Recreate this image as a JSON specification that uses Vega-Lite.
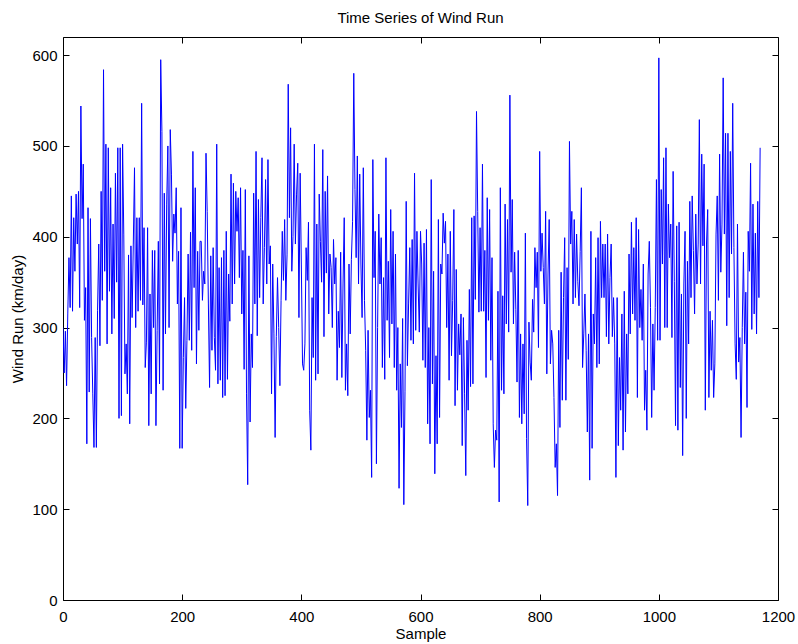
{
"$schema": "https://vega.github.io/schema/vega-lite/v6.json",
"autosize": "none",
"width": 715,
"height": 563,
"padding": {"left": 63, "top": 37, "right": 20, "bottom": 44},
"background": "white",
"title": {"text": "Time Series of Wind Run", "font": "Liberation Sans", "fontSize": 15, "fontWeight": "normal", "color": "black", "offset": 11},
"config": {
  "view": {"stroke": "black", "strokeWidth": 1},
  "axis": {"grid": false, "domain": false, "tickColor": "black", "tickSize": -6, "tickWidth": 1, "labelFont": "Liberation Sans", "labelFontSize": 15, "labelColor": "black", "titleFont": "Liberation Sans", "titleFontSize": 15, "titleFontWeight": "normal", "titleColor": "black", "format": "d"}
},
"data": {"values": [
{"x":0,"y":300},{"x":2,"y":250},{"x":4,"y":296},{"x":6,"y":236},{"x":8,"y":315},{"x":10,"y":377},{"x":12,"y":322},{"x":14,"y":445},{"x":16,"y":318},{"x":18,"y":421},
{"x":20,"y":362},{"x":22,"y":447},{"x":24,"y":392},{"x":26,"y":450},{"x":28,"y":322},{"x":30,"y":544},{"x":32,"y":420},{"x":34,"y":480},{"x":36,"y":308},{"x":38,"y":344},
{"x":40,"y":172},{"x":42,"y":432},{"x":44,"y":229},{"x":46,"y":420},{"x":48,"y":289},{"x":50,"y":227},{"x":52,"y":168},{"x":54,"y":289},{"x":56,"y":168},{"x":58,"y":319},
{"x":60,"y":392},{"x":62,"y":280},{"x":64,"y":450},{"x":66,"y":330},{"x":68,"y":584},{"x":70,"y":362},{"x":72,"y":502},{"x":74,"y":282},{"x":76,"y":498},{"x":78,"y":340},
{"x":80,"y":454},{"x":82,"y":293},{"x":84,"y":414},{"x":86,"y":310},{"x":88,"y":470},{"x":90,"y":350},{"x":92,"y":498},{"x":94,"y":200},{"x":96,"y":498},{"x":98,"y":203},
{"x":100,"y":502},{"x":102,"y":403},{"x":104,"y":249},{"x":106,"y":282},{"x":108,"y":227},{"x":110,"y":380},{"x":112,"y":194},{"x":114,"y":390},{"x":116,"y":311},{"x":118,"y":392},
{"x":120,"y":476},{"x":122,"y":300},{"x":124,"y":421},{"x":126,"y":318},{"x":128,"y":421},{"x":130,"y":330},{"x":132,"y":547},{"x":134,"y":325},{"x":136,"y":410},{"x":138,"y":256},
{"x":140,"y":284},{"x":142,"y":410},{"x":144,"y":192},{"x":146,"y":337},{"x":148,"y":227},{"x":150,"y":385},{"x":152,"y":300},{"x":154,"y":385},{"x":156,"y":192},{"x":158,"y":297},
{"x":160,"y":395},{"x":162,"y":238},{"x":164,"y":595},{"x":166,"y":516},{"x":168,"y":231},{"x":170,"y":448},{"x":172,"y":293},{"x":174,"y":436},{"x":176,"y":500},{"x":178,"y":300},
{"x":180,"y":518},{"x":182,"y":469},{"x":184,"y":373},{"x":186,"y":425},{"x":188,"y":404},{"x":190,"y":454},{"x":192,"y":326},{"x":194,"y":384},{"x":196,"y":167},{"x":198,"y":432},
{"x":200,"y":167},{"x":202,"y":267},{"x":204,"y":333},{"x":206,"y":211},{"x":208,"y":286},{"x":210,"y":381},{"x":212,"y":286},{"x":214,"y":405},{"x":216,"y":275},{"x":218,"y":494},
{"x":220,"y":344},{"x":222,"y":454},{"x":224,"y":260},{"x":226,"y":384},{"x":228,"y":297},{"x":230,"y":395},{"x":232,"y":395},{"x":234,"y":330},{"x":236,"y":362},{"x":238,"y":348},
{"x":240,"y":492},{"x":242,"y":428},{"x":244,"y":326},{"x":246,"y":234},{"x":248,"y":379},{"x":250,"y":275},{"x":252,"y":388},{"x":254,"y":289},{"x":256,"y":253},{"x":258,"y":502},
{"x":260,"y":238},{"x":262,"y":366},{"x":264,"y":242},{"x":266,"y":377},{"x":268,"y":223},{"x":270,"y":385},{"x":272,"y":225},{"x":274,"y":406},{"x":276,"y":243},{"x":278,"y":359},
{"x":280,"y":307},{"x":282,"y":469},{"x":284,"y":326},{"x":286,"y":459},{"x":288,"y":348},{"x":290,"y":450},{"x":292,"y":406},{"x":294,"y":443},{"x":296,"y":355},{"x":298,"y":454},
{"x":300,"y":315},{"x":302,"y":385},{"x":304,"y":254},{"x":306,"y":452},{"x":308,"y":227},{"x":310,"y":127},{"x":312,"y":379},{"x":314,"y":196},{"x":316,"y":293},{"x":318,"y":256},
{"x":320,"y":448},{"x":322,"y":326},{"x":324,"y":494},{"x":326,"y":291},{"x":328,"y":441},{"x":330,"y":333},{"x":332,"y":421},{"x":334,"y":487},{"x":336,"y":326},{"x":338,"y":388},
{"x":340,"y":463},{"x":342,"y":348},{"x":344,"y":485},{"x":346,"y":370},{"x":348,"y":390},{"x":350,"y":227},{"x":352,"y":370},{"x":354,"y":293},{"x":356,"y":179},{"x":358,"y":290},
{"x":360,"y":355},{"x":362,"y":300},{"x":364,"y":236},{"x":366,"y":330},{"x":368,"y":406},{"x":370,"y":352},{"x":372,"y":419},{"x":374,"y":330},{"x":376,"y":380},{"x":378,"y":568},
{"x":380,"y":421},{"x":382,"y":520},{"x":384,"y":362},{"x":386,"y":400},{"x":388,"y":502},{"x":390,"y":392},{"x":392,"y":447},{"x":394,"y":481},{"x":396,"y":311},{"x":398,"y":470},
{"x":400,"y":370},{"x":402,"y":260},{"x":404,"y":253},{"x":406,"y":282},{"x":408,"y":388},{"x":410,"y":352},{"x":412,"y":416},{"x":414,"y":209},{"x":416,"y":165},{"x":418,"y":333},
{"x":420,"y":267},{"x":422,"y":502},{"x":424,"y":242},{"x":426,"y":414},{"x":428,"y":249},{"x":430,"y":447},{"x":432,"y":395},{"x":434,"y":350},{"x":436,"y":496},{"x":438,"y":290},
{"x":440,"y":450},{"x":442,"y":360},{"x":444,"y":467},{"x":446,"y":315},{"x":448,"y":381},{"x":450,"y":366},{"x":452,"y":300},{"x":454,"y":397},{"x":456,"y":348},{"x":458,"y":377},
{"x":460,"y":242},{"x":462,"y":318},{"x":464,"y":278},{"x":466,"y":383},{"x":468,"y":245},{"x":470,"y":348},{"x":472,"y":421},{"x":474,"y":231},{"x":476,"y":282},{"x":478,"y":225},
{"x":480,"y":370},{"x":482,"y":293},{"x":484,"y":375},{"x":486,"y":417},{"x":488,"y":580},{"x":490,"y":452},{"x":492,"y":377},{"x":494,"y":489},{"x":496,"y":348},{"x":498,"y":469},
{"x":500,"y":370},{"x":502,"y":311},{"x":504,"y":476},{"x":506,"y":330},{"x":508,"y":275},{"x":510,"y":176},{"x":512,"y":297},{"x":514,"y":201},{"x":516,"y":231},{"x":518,"y":135},
{"x":520,"y":485},{"x":522,"y":355},{"x":524,"y":406},{"x":526,"y":150},{"x":528,"y":300},{"x":530,"y":425},{"x":532,"y":348},{"x":534,"y":399},{"x":536,"y":256},{"x":538,"y":355},
{"x":540,"y":243},{"x":542,"y":487},{"x":544,"y":308},{"x":546,"y":373},{"x":548,"y":267},{"x":550,"y":430},{"x":552,"y":304},{"x":554,"y":406},{"x":556,"y":256},{"x":558,"y":381},
{"x":560,"y":231},{"x":562,"y":300},{"x":564,"y":123},{"x":566,"y":260},{"x":568,"y":190},{"x":570,"y":310},{"x":572,"y":105},{"x":574,"y":230},{"x":576,"y":439},{"x":578,"y":258},
{"x":580,"y":326},{"x":582,"y":388},{"x":584,"y":286},{"x":586,"y":397},{"x":588,"y":282},{"x":590,"y":470},{"x":592,"y":297},{"x":594,"y":406},{"x":596,"y":348},{"x":598,"y":295},
{"x":600,"y":406},{"x":602,"y":370},{"x":604,"y":264},{"x":606,"y":393},{"x":608,"y":256},{"x":610,"y":408},{"x":612,"y":194},{"x":614,"y":300},{"x":616,"y":172},{"x":618,"y":463},
{"x":620,"y":238},{"x":622,"y":362},{"x":624,"y":139},{"x":626,"y":269},{"x":628,"y":172},{"x":630,"y":419},{"x":632,"y":201},{"x":634,"y":370},{"x":636,"y":359},{"x":638,"y":426},
{"x":640,"y":393},{"x":642,"y":417},{"x":644,"y":300},{"x":646,"y":381},{"x":648,"y":242},{"x":650,"y":406},{"x":652,"y":269},{"x":654,"y":330},{"x":656,"y":430},{"x":658,"y":214},
{"x":660,"y":364},{"x":662,"y":231},{"x":664,"y":304},{"x":666,"y":270},{"x":668,"y":315},{"x":670,"y":170},{"x":672,"y":311},{"x":674,"y":227},{"x":676,"y":137},{"x":678,"y":286},
{"x":680,"y":209},{"x":682,"y":342},{"x":684,"y":235},{"x":686,"y":421},{"x":688,"y":238},{"x":690,"y":423},{"x":692,"y":331},{"x":694,"y":538},{"x":696,"y":428},{"x":698,"y":317},
{"x":700,"y":410},{"x":702,"y":318},{"x":704,"y":480},{"x":706,"y":318},{"x":708,"y":385},{"x":710,"y":245},{"x":712,"y":443},{"x":714,"y":308},{"x":716,"y":430},{"x":718,"y":264},
{"x":720,"y":377},{"x":722,"y":194},{"x":724,"y":146},{"x":726,"y":187},{"x":728,"y":176},{"x":730,"y":340},{"x":732,"y":108},{"x":734,"y":454},{"x":736,"y":231},{"x":738,"y":335},
{"x":740,"y":227},{"x":742,"y":436},{"x":744,"y":304},{"x":746,"y":419},{"x":748,"y":295},{"x":750,"y":556},{"x":752,"y":361},{"x":754,"y":441},{"x":756,"y":304},{"x":758,"y":383},
{"x":760,"y":320},{"x":762,"y":240},{"x":764,"y":385},{"x":766,"y":201},{"x":768,"y":293},{"x":770,"y":194},{"x":772,"y":282},{"x":774,"y":205},{"x":776,"y":404},{"x":778,"y":178},
{"x":780,"y":104},{"x":782,"y":306},{"x":784,"y":262},{"x":786,"y":242},{"x":788,"y":331},{"x":790,"y":295},{"x":792,"y":388},{"x":794,"y":344},{"x":796,"y":383},{"x":798,"y":278},
{"x":800,"y":494},{"x":802,"y":362},{"x":804,"y":404},{"x":806,"y":366},{"x":808,"y":326},{"x":810,"y":428},{"x":812,"y":249},{"x":814,"y":359},{"x":816,"y":419},{"x":818,"y":260},
{"x":820,"y":297},{"x":822,"y":282},{"x":824,"y":223},{"x":826,"y":146},{"x":828,"y":172},{"x":830,"y":115},{"x":832,"y":297},{"x":834,"y":190},{"x":836,"y":361},{"x":838,"y":220},
{"x":840,"y":333},{"x":842,"y":399},{"x":844,"y":220},{"x":846,"y":366},{"x":848,"y":265},{"x":850,"y":505},{"x":852,"y":392},{"x":854,"y":428},{"x":856,"y":326},{"x":858,"y":419},
{"x":860,"y":333},{"x":862,"y":403},{"x":864,"y":351},{"x":866,"y":324},{"x":868,"y":384},{"x":870,"y":454},{"x":872,"y":256},{"x":874,"y":293},{"x":876,"y":337},{"x":878,"y":275},
{"x":880,"y":185},{"x":882,"y":293},{"x":884,"y":132},{"x":886,"y":406},{"x":888,"y":167},{"x":890,"y":315},{"x":892,"y":282},{"x":894,"y":377},{"x":896,"y":256},{"x":898,"y":399},
{"x":900,"y":260},{"x":902,"y":417},{"x":904,"y":333},{"x":906,"y":392},{"x":908,"y":333},{"x":910,"y":392},{"x":912,"y":290},{"x":914,"y":403},{"x":916,"y":282},{"x":918,"y":355},
{"x":920,"y":392},{"x":922,"y":290},{"x":924,"y":333},{"x":926,"y":282},{"x":928,"y":135},{"x":930,"y":333},{"x":932,"y":170},{"x":934,"y":267},{"x":936,"y":209},{"x":938,"y":315},
{"x":940,"y":165},{"x":942,"y":340},{"x":944,"y":185},{"x":946,"y":293},{"x":948,"y":227},{"x":950,"y":381},{"x":952,"y":293},{"x":954,"y":416},{"x":956,"y":315},{"x":958,"y":388},
{"x":960,"y":308},{"x":962,"y":421},{"x":964,"y":223},{"x":966,"y":408},{"x":968,"y":300},{"x":970,"y":342},{"x":972,"y":286},{"x":974,"y":370},{"x":976,"y":209},{"x":978,"y":253},
{"x":980,"y":187},{"x":982,"y":359},{"x":984,"y":395},{"x":986,"y":322},{"x":988,"y":201},{"x":990,"y":304},{"x":992,"y":231},{"x":994,"y":322},{"x":996,"y":463},{"x":998,"y":286},
{"x":1000,"y":597},{"x":1002,"y":286},{"x":1004,"y":452},{"x":1006,"y":370},{"x":1008,"y":487},{"x":1010,"y":300},{"x":1012,"y":498},{"x":1014,"y":300},{"x":1016,"y":436},{"x":1018,"y":377},
{"x":1020,"y":414},{"x":1022,"y":289},{"x":1024,"y":472},{"x":1026,"y":351},{"x":1028,"y":192},{"x":1030,"y":412},{"x":1032,"y":187},{"x":1034,"y":416},{"x":1036,"y":234},{"x":1038,"y":337},
{"x":1040,"y":159},{"x":1042,"y":348},{"x":1044,"y":406},{"x":1046,"y":200},{"x":1048,"y":373},{"x":1050,"y":282},{"x":1052,"y":439},{"x":1054,"y":333},{"x":1056,"y":445},{"x":1058,"y":385},
{"x":1060,"y":315},{"x":1062,"y":425},{"x":1064,"y":348},{"x":1066,"y":392},{"x":1068,"y":529},{"x":1070,"y":348},{"x":1072,"y":491},{"x":1074,"y":390},{"x":1076,"y":480},{"x":1078,"y":209},
{"x":1080,"y":392},{"x":1082,"y":430},{"x":1084,"y":223},{"x":1086,"y":318},{"x":1088,"y":253},{"x":1090,"y":308},{"x":1092,"y":223},{"x":1094,"y":260},{"x":1096,"y":403},{"x":1098,"y":445},
{"x":1100,"y":330},{"x":1102,"y":491},{"x":1104,"y":361},{"x":1106,"y":414},{"x":1108,"y":575},{"x":1110,"y":403},{"x":1112,"y":514},{"x":1114,"y":302},{"x":1116,"y":514},{"x":1118,"y":333},
{"x":1120,"y":494},{"x":1122,"y":381},{"x":1124,"y":547},{"x":1126,"y":388},{"x":1128,"y":282},{"x":1130,"y":243},{"x":1132,"y":414},{"x":1134,"y":262},{"x":1136,"y":289},{"x":1138,"y":179},
{"x":1140,"y":300},{"x":1142,"y":383},{"x":1144,"y":282},{"x":1146,"y":339},{"x":1148,"y":212},{"x":1150,"y":406},{"x":1152,"y":362},{"x":1154,"y":481},{"x":1156,"y":298},{"x":1158,"y":436},
{"x":1160,"y":315},{"x":1162,"y":404},{"x":1164,"y":293},{"x":1166,"y":439},{"x":1168,"y":333},{"x":1170,"y":498}
]},
"layer": [
  {
    "mark": {"type": "line", "color": "#0000ff", "strokeWidth": 1, "clip": true},
    "encoding": {
      "x": {"field": "x", "type": "quantitative", "scale": {"domain": [0, 1200], "nice": false, "zero": false},
            "axis": {"orient": "bottom", "values": [0, 200, 400, 600, 800, 1000, 1200], "title": "Sample", "labelPadding": 15, "titlePadding": 2, "labelFlush": false}},
      "y": {"field": "y", "type": "quantitative", "scale": {"domain": [0, 620], "nice": false, "zero": false},
            "axis": {"orient": "left", "values": [0, 100, 200, 300, 400, 500, 600], "title": "Wind Run (km/day)", "labelPadding": 12, "titlePadding": 6, "labelFlush": false}}
    }
  },
  {
    "mark": {"type": "line", "opacity": 0},
    "encoding": {
      "x": {"field": "x", "type": "quantitative", "scale": {"domain": [0, 1200], "nice": false, "zero": false},
            "axis": {"orient": "top", "values": [0, 200, 400, 600, 800, 1000, 1200], "labels": false, "title": null}},
      "y": {"field": "y", "type": "quantitative", "scale": {"domain": [0, 620], "nice": false, "zero": false},
            "axis": {"orient": "right", "values": [0, 100, 200, 300, 400, 500, 600], "labels": false, "title": null}}
    }
  }
],
"resolve": {"axis": {"x": "independent", "y": "independent"}}
}
